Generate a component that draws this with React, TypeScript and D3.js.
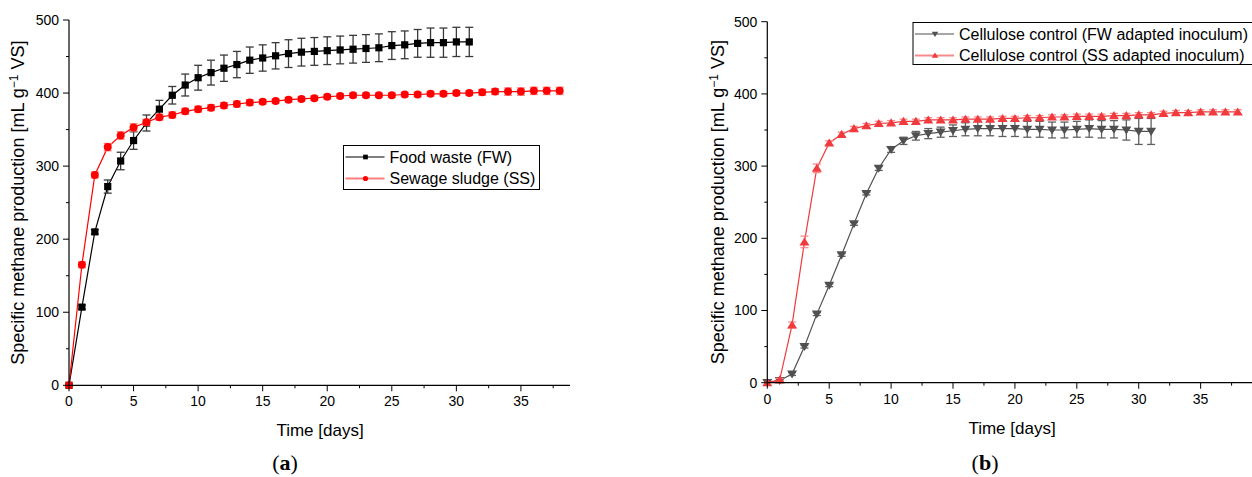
import React from "react";
import * as d3 from "d3";

const daysA = [0,1,2,3,4,5,6,7,8,9,10,11,12,13,14,15,16,17,18,19,20,21,22,23,24,25,26,27,28,29,30,31];
const daysB = [0,1,2,3,4,5,6,7,8,9,10,11,12,13,14,15,16,17,18,19,20,21,22,23,24,25,26,27,28,29,30,31,32,33,34,35,36,37,38];

const fwValues = [0,107,210,272,307,335,359,378,397,411,421,428,434,439,445,448,451,454,456,457,458,459,460,461,462,465,466,468,469,469,470,470];
const fwErr = [0,3,3,9,12,12,11,12,12,15,17,17,18,18,18,18,18,19,19,19,19,19,19,19,19,19,19,19,20,20,20,20];
const ssValues = [0,165,288,326,342,353,360,367,370,375,378,380,383,385,387,388,389,391,392,393,395,396,397,397,397,397,398,398,399,399,400,400,401,402,402,402,403,403,403];
const ssErr = [0,4,4,5,5,5,4,4,4,4,4,4,4,4,4,3,3,3,3,3,3,3,3,3,3,3,3,3,3,3,3,3,4,4,5,5,5,5,5];

const cellFW = [0,3,12,50,95,135,177,220,262,297,323,335,342,345,347,349,351,352,352,352,352,351,351,350,350,351,352,351,351,350,348,348];
const cellFWErr = [0,1,2,2,2,2,2,2,2,3,4,5,6,7,7,8,9,10,10,11,11,11,11,11,11,11,12,12,12,14,18,18];
const cellSS = [0,4,80,195,297,332,344,352,356,359,360,362,362,364,364,364,365,365,365,366,366,367,367,368,368,369,369,369,370,370,371,371,373,374,374,375,375,375,375];
const cellSSErr = [0,2,4,8,6,3,3,3,3,3,3,3,3,3,3,3,3,3,3,3,3,3,3,3,3,3,3,3,3,3,3,3,3,3,3,3,3,3,3];

const xTicks = [0,5,10,15,20,25,30,35];
const xMinor = [2.5,7.5,12.5,17.5,22.5,27.5,32.5,37.5];
const yTicks = [0,100,200,300,400,500];
const yMinor = [50,150,250,350,450];

const legendA = ["Food waste (FW)", "Sewage sludge (SS)"];
const legendB = ["Cellulose control (FW adapted inoculum)", "Cellulose control (SS adapted inoculum)"];

const FONT = "Liberation Sans, Arial, sans-serif";

type Series = {
  days: number[];
  vals: number[];
  err: number[];
  color: string;
  errColor: string;
  marker: "square" | "circle" | "tri-up" | "tri-down";
};

function Marker({ kind, x, y, color, s = 1 }: { kind: string; x: number; y: number; color: string; s?: number }) {
  if (kind === "square") {
    const h = 3.6 * s;
    return <rect x={x - h} y={y - h} width={2 * h} height={2 * h} fill={color} />;
  }
  if (kind === "circle") {
    return <circle cx={x} cy={y} r={4 * s} fill={color} />;
  }
  if (kind === "tri-up") {
    const w = 5 * s, h = 4.5 * s;
    return <path d={`M${x},${y - h}L${x + w},${y + h * 0.8}L${x - w},${y + h * 0.8}Z`} fill={color} />;
  }
  const w = 5 * s, h = 4.5 * s;
  return <path d={`M${x},${y + h}L${x + w},${y - h * 0.8}L${x - w},${y - h * 0.8}Z`} fill={color} />;
}

function Panel({ x0, x1, y0, y1, xMax, series, label, labelX, yLabelX, titleX, legend, legendBox }: any) {
  const xs = d3.scaleLinear().domain([0, xMax]).range([x0, x1]);
  const ys = d3.scaleLinear().domain([0, 500]).range([y0, y1]);
  const line = d3.line<[number, number]>().x((d) => xs(d[0])).y((d) => ys(d[1]));
  const yMid = (y0 + y1) / 2;
  return (
    <g>
      {series.map((s: Series, i: number) => (
        <g key={i}>
          <path d={line(s.days.map((d, j) => [d, s.vals[j]]) as any) || ""} fill="none" stroke={s.color} strokeWidth={1.2} />
          {s.days.map((d, j) =>
            s.err[j] > 0 ? (
              <g key={j} stroke={s.errColor} strokeWidth={1.3}>
                <line x1={xs(d)} x2={xs(d)} y1={ys(s.vals[j] - s.err[j])} y2={ys(s.vals[j] + s.err[j])} />
                <line x1={xs(d) - 4} x2={xs(d) + 4} y1={ys(s.vals[j] - s.err[j])} y2={ys(s.vals[j] - s.err[j])} />
                <line x1={xs(d) - 4} x2={xs(d) + 4} y1={ys(s.vals[j] + s.err[j])} y2={ys(s.vals[j] + s.err[j])} />
              </g>
            ) : null
          )}
          {s.days.map((d, j) => (
            <Marker key={j} kind={s.marker} x={xs(d)} y={ys(s.vals[j])} color={s.color} />
          ))}
        </g>
      ))}
      <line x1={x0} x2={x0} y1={y0} y2={y1} stroke="#000" strokeWidth={1.2} />
      <line x1={x0} x2={x1} y1={y0} y2={y0} stroke="#000" strokeWidth={1.2} />
      {yTicks.map((t) => (
        <g key={t}>
          <line x1={x0 - 6} x2={x0} y1={ys(t)} y2={ys(t)} stroke="#000" />
          <text x={x0 - 10} y={ys(t)} dy="0.35em" textAnchor="end" fontSize={14} fontFamily={FONT}>{t}</text>
        </g>
      ))}
      {yMinor.map((t) => (
        <line key={t} x1={x0 - 3} x2={x0} y1={ys(t)} y2={ys(t)} stroke="#000" />
      ))}
      {xTicks.map((t) => (
        <g key={t}>
          <line x1={xs(t)} x2={xs(t)} y1={y0} y2={y0 + 6} stroke="#000" />
          <text x={xs(t)} y={y0 + 21} textAnchor="middle" fontSize={14} fontFamily={FONT}>{t}</text>
        </g>
      ))}
      {xMinor.map((t) => (
        <line key={t} x1={xs(t)} x2={xs(t)} y1={y0} y2={y0 + 3} stroke="#000" />
      ))}
      <text x={titleX} y={y0 + 51} textAnchor="middle" fontSize={17} fontFamily={FONT}>Time [days]</text>
      <text transform={`translate(${yLabelX},${yMid}) rotate(-90)`} textAnchor="middle" fontSize={18} fontFamily={FONT}>
        Specific methane production [mL g<tspan dy={-6} fontSize={12}>−1</tspan><tspan dy={6}> VS]</tspan>
      </text>
      <text x={labelX} y={470} textAnchor="middle" fontSize={22} fontFamily="Liberation Serif, serif">
        (<tspan fontWeight="bold">{label}</tspan>)
      </text>
      <rect x={legendBox.x} y={legendBox.y} width={legendBox.w} height={legendBox.h} fill="#fff" stroke="#000" strokeWidth={1} />
      {legend.map((name: string, i: number) => {
        const s: Series = series[i];
        const cy = legendBox.y + 11.5 + i * 21.5;
        const lx = legendBox.x + 2;
        return (
          <g key={i}>
            <line x1={lx} x2={lx + 39} y1={cy} y2={cy} stroke={i === 1 ? s.errColor : s.color} strokeWidth={i === 1 ? 2 : 1.2} />
            <Marker kind={s.marker} x={lx + 20} y={cy} color={s.color} s={0.65} />
            <text x={legendBox.x + 46} y={cy} dy="0.35em" fontSize={16} fontFamily={FONT}>{name}</text>
          </g>
        );
      })}
    </g>
  );
}

export default function App() {
  const seriesA: Series[] = [
    { days: daysA, vals: fwValues, err: fwErr, color: "#000", errColor: "#3a3a3a", marker: "square" },
    { days: daysB, vals: ssValues, err: ssErr, color: "#ff0000", errColor: "#ff7f7f", marker: "circle" },
  ];
  const seriesB: Series[] = [
    { days: daysA, vals: cellFW, err: cellFWErr, color: "#505050", errColor: "#606060", marker: "tri-down" },
    { days: daysB, vals: cellSS, err: cellSSErr, color: "#f03a3e", errColor: "#f78a8c", marker: "tri-up" },
  ];
  return (
    <svg width={1252} height={477} style={{ position: "absolute", left: 0, top: 0, background: "#fff" }}>
      <rect width={1252} height={477} fill="#fff" />
      <Panel x0={69} x1={570} y0={385.3} y1={20} xMax={38.8} series={seriesA} label="a" labelX={285} titleX={320}
        yLabelX={24} legend={legendA} legendBox={{ x: 343.5, y: 145.5, w: 196, h: 44 }} />
      <Panel x0={767.3} x1={1253} y0={382.7} y1={21.7} xMax={39.23} series={seriesB} label="b" labelX={985} titleX={1012}
        yLabelX={724} legend={legendB} legendBox={{ x: 913, y: 22.5, w: 345, h: 42 }} />
    </svg>
  );
}
